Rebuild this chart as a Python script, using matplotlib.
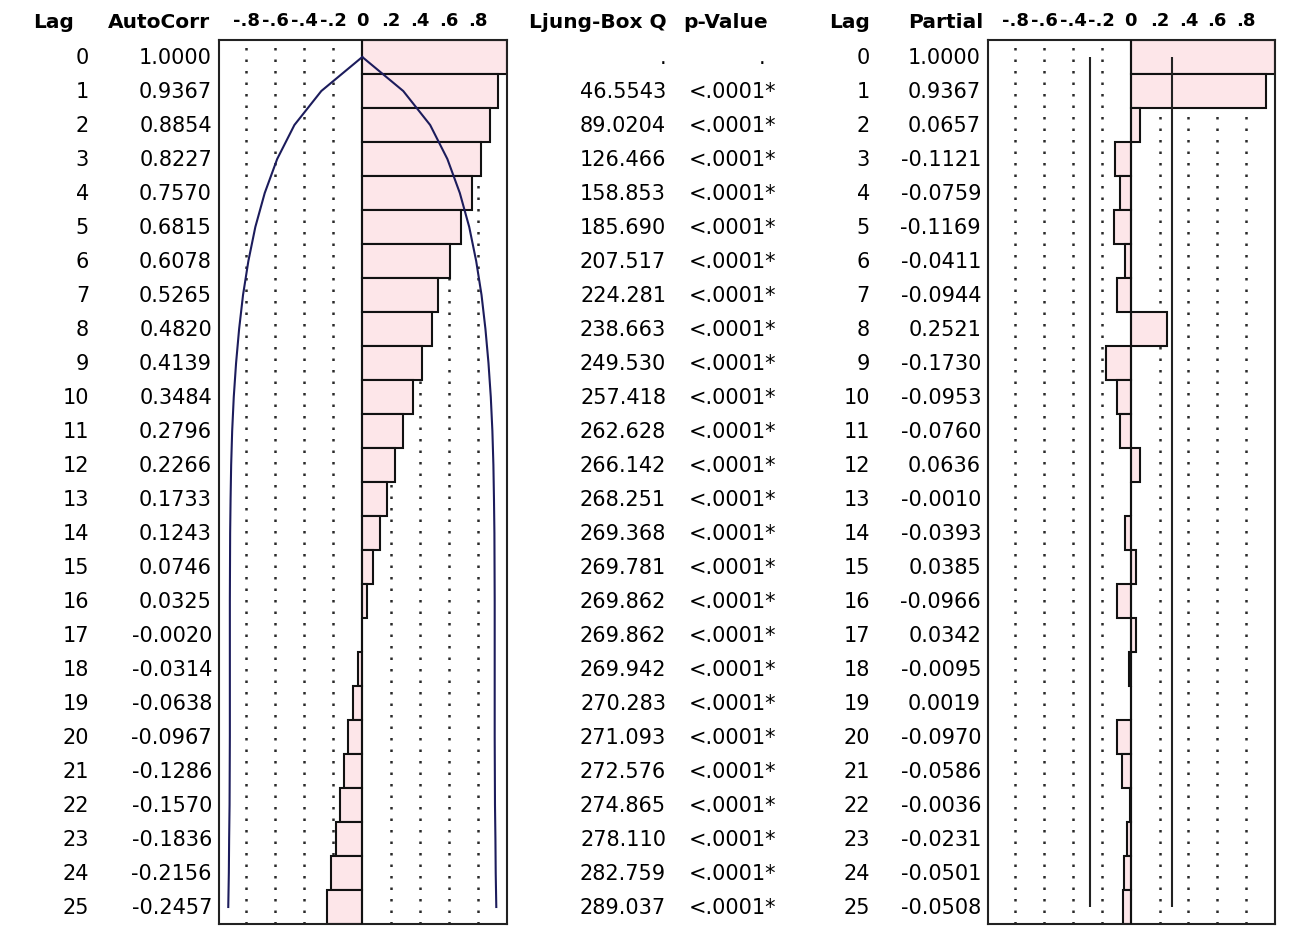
import numpy as np
import matplotlib
matplotlib.use('Agg')
import matplotlib.pyplot as plt
import matplotlib.transforms as mtransforms

lags = np.arange(26)

acf = [1.0000, 0.9367, 0.8854, 0.8227, 0.7570, 0.6815, 0.6078, 0.5265, 0.4820,
       0.4139, 0.3484, 0.2796, 0.2266, 0.1733, 0.1243, 0.0746, 0.0325, -0.0020,
       -0.0314, -0.0638, -0.0967, -0.1286, -0.1570, -0.1836, -0.2156, -0.2457]

pacf = [1.0000, 0.9367, 0.0657, -0.1121, -0.0759, -0.1169, -0.0411, -0.0944,
        0.2521, -0.1730, -0.0953, -0.0760, 0.0636, -0.0010, -0.0393, 0.0385,
        -0.0966, 0.0342, -0.0095, 0.0019, -0.0970, -0.0586, -0.0036, -0.0231,
        -0.0501, -0.0508]

# Ljung-Box Q (lag 0 is missing)
ljung_q = [None, 46.5543, 89.0204, 126.466, 158.853, 185.690, 207.517, 224.281,
           238.663, 249.530, 257.418, 262.628, 266.142, 268.251, 269.368,
           269.781, 269.862, 269.862, 269.942, 270.283, 271.093, 272.576,
           274.865, 278.110, 282.759, 289.037]
p_value = [None] + ['<.0001*'] * 25

# 2-sigma bounds
acf_limit = [0.0, 0.283, 0.469, 0.588, 0.674, 0.739, 0.787, 0.824, 0.851, 0.872,
             0.888, 0.899, 0.906, 0.910, 0.913, 0.914, 0.915, 0.915, 0.915,
             0.915, 0.915, 0.916, 0.917, 0.920, 0.922, 0.926]
pacf_limit = 0.283

grid_ticks = [-0.8, -0.6, -0.4, -0.2, 0.2, 0.4, 0.6, 0.8]
tick_vals = [-0.8, -0.6, -0.4, -0.2, 0, 0.2, 0.4, 0.6, 0.8]
tick_labels = ['-.8', '-.6', '-.4', '-.2', '0', '.2', '.4', '.6', '.8']

W, H = 1314, 926
fig = plt.figure(figsize=(W / 100, H / 100), dpi=100)

bar_color = '#fde6e9'
top, bottom = 40, 924


def panel(x0, x1, vals):
    ax = fig.add_axes([x0 / W, 1 - bottom / H, (x1 - x0) / W, (bottom - top) / H])
    for v in grid_ticks:
        ax.axvline(v, color='#2a2a2a', lw=1.8, ls=(0, (1, 3.6)), zorder=1)
    ax.barh(lags, vals, height=1.0, color=bar_color, edgecolor='#111111',
            linewidth=1.5, zorder=2)
    ax.axvline(0, color='#111111', lw=1.5, zorder=3)
    ax.set_xlim(-0.99, 1.0)
    ax.set_ylim(25.5, -0.5)
    ax.set_yticks([])
    ax.xaxis.tick_top()
    ax.set_xticks(tick_vals)
    ax.set_xticklabels(tick_labels, fontsize=13, fontweight='bold')
    ax.tick_params(axis='x', length=0, pad=7)
    for s in ax.spines.values():
        s.set_linewidth(1.5)
        s.set_color('#222222')
    return ax


ax1 = panel(219, 507, acf)
lim = np.array(acf_limit)
ax1.plot(lim, lags, color='#1c1c5c', lw=1.5, zorder=4)
ax1.plot(-lim, lags, color='#1c1c5c', lw=1.5, zorder=4)

ax2 = panel(988, 1275, pacf)
ax2.vlines([-pacf_limit, pacf_limit], 0, 25, color='#222222', lw=1.5, zorder=4)

# table columns
tr = mtransforms.blended_transform_factory(fig.transFigure, ax1.transData)
base = 0.22  # baseline offset in rows
head_y = 1 - 28.5 / H

headers = [('Lag', 74), ('AutoCorr', 210), ('Ljung-Box Q', 667),
           ('p-Value', 768), ('Lag', 870), ('Partial', 983)]
for txt, x in headers:
    fig.text(x / W, head_y, txt, ha='right', va='baseline', fontsize=14.5,
             fontweight='bold')


def fmt_q(q):
    return f'{q:.{6 - len(str(int(q)))}f}'


for k in lags:
    y = k + base
    kw = dict(transform=tr, va='baseline', fontsize=15, ha='right')
    fig.text(89 / W, y, str(k), **kw)
    fig.text(212 / W, y, f'{acf[k]:.4f}', **kw)
    if ljung_q[k] is None:
        fig.text(663 / W, y, '.', transform=tr, va='baseline', fontsize=15, ha='center')
    else:
        fig.text(666 / W, y, fmt_q(ljung_q[k]), **kw)
    if p_value[k] is None:
        fig.text(762 / W, y, '.', transform=tr, va='baseline', fontsize=15, ha='center')
    else:
        fig.text(776 / W, y, p_value[k], **kw)
    fig.text(870 / W, y, str(k), **kw)
    fig.text(981 / W, y, f'{pacf[k]:.4f}', **kw)

fig.savefig('out.png', dpi=100, facecolor='white')
